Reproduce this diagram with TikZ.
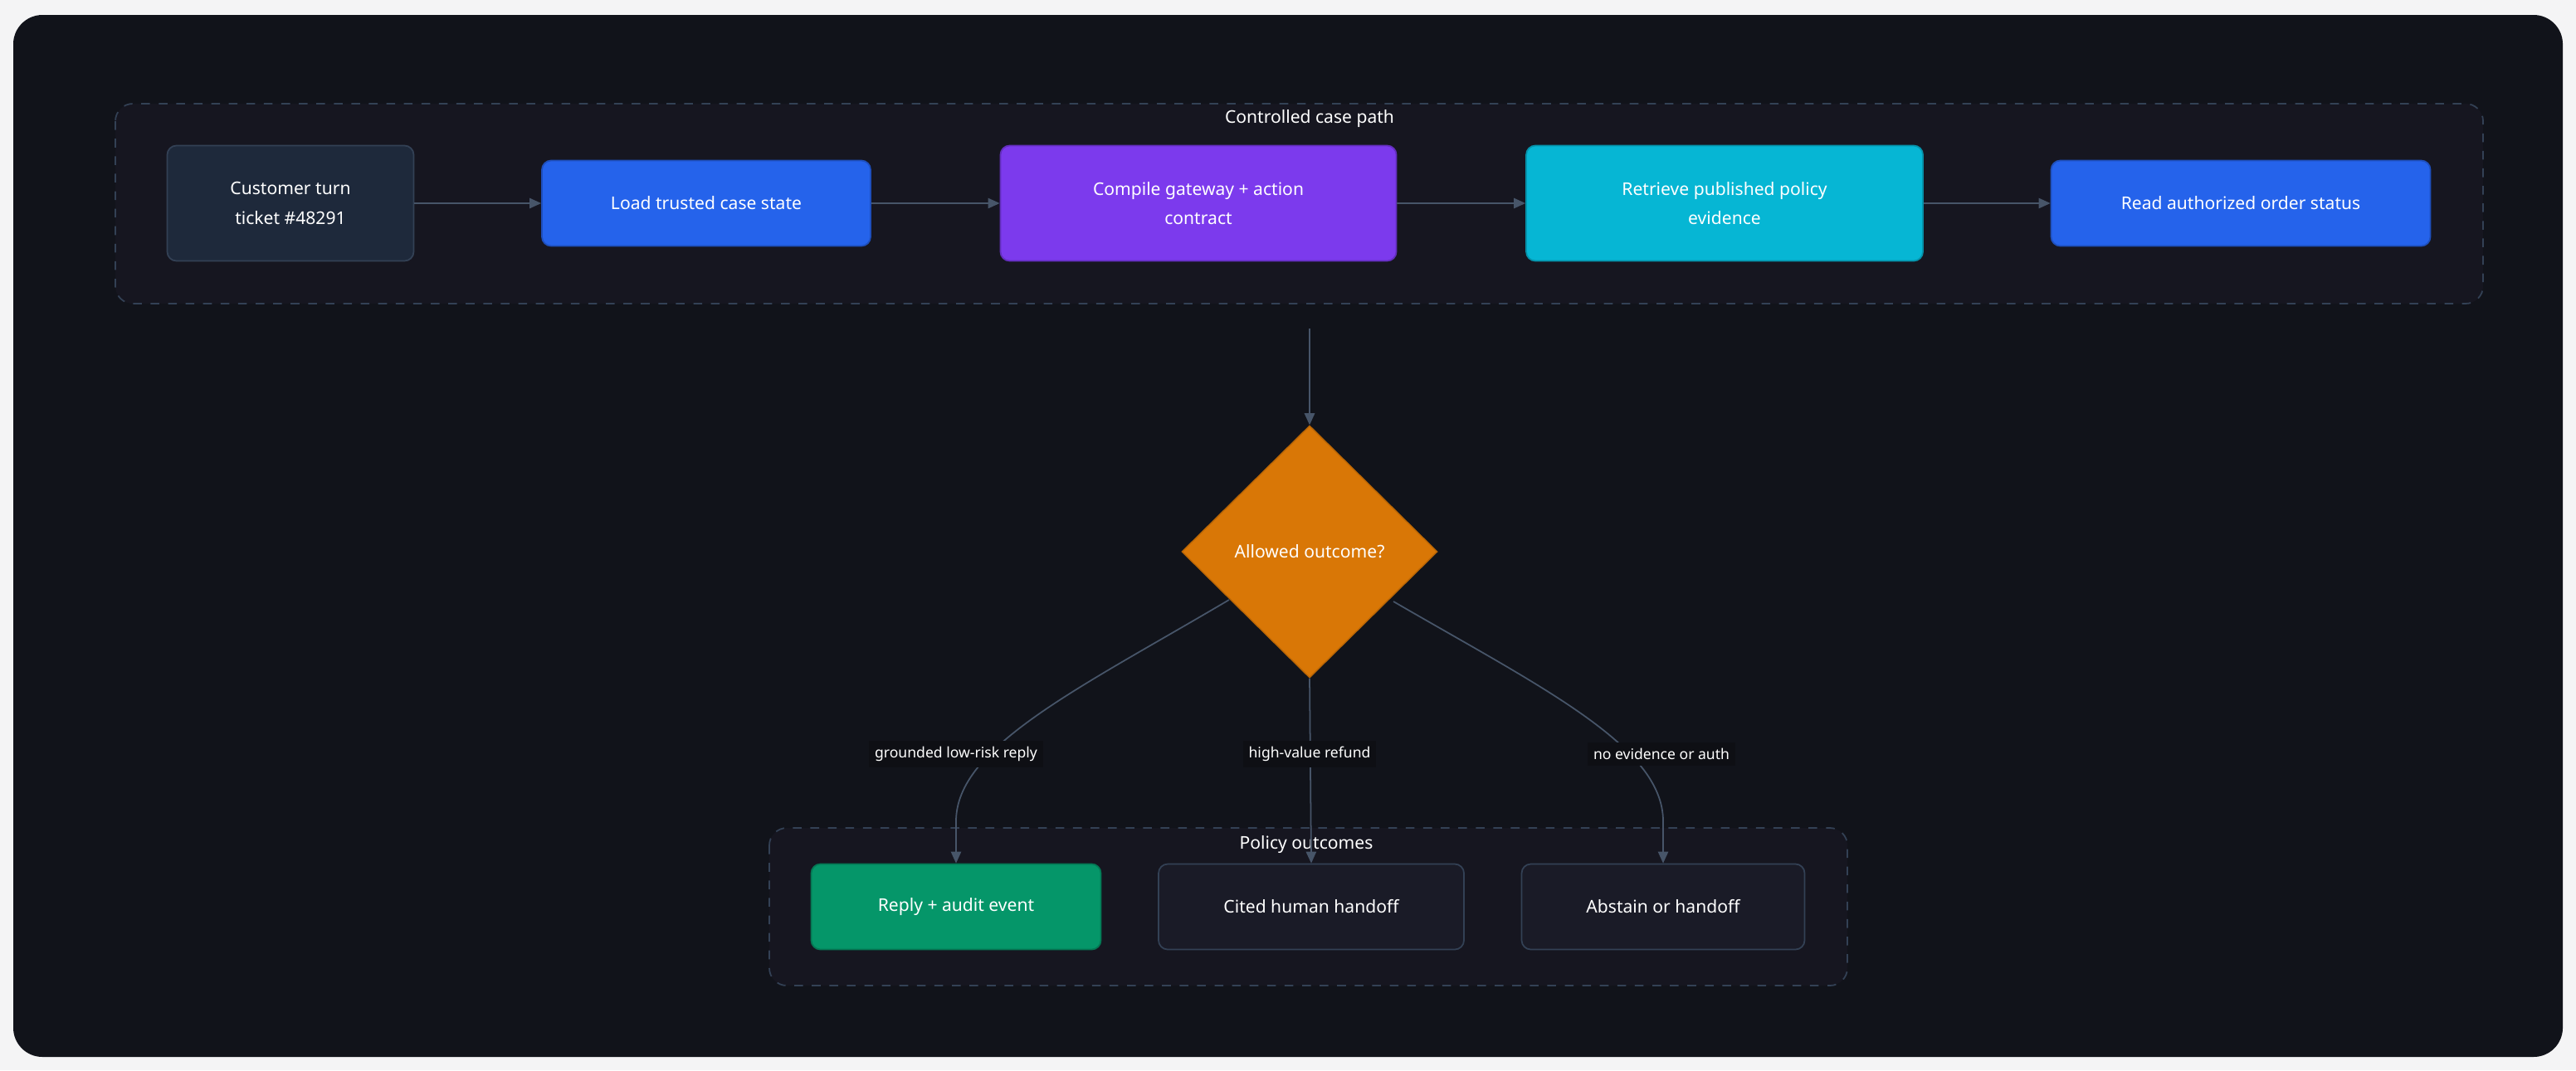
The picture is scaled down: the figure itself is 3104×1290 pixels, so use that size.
\documentclass[tikz,border=0pt]{standalone}
\usepackage{fontspec}
\setmainfont{Noto Sans}
\usetikzlibrary{shapes.geometric,arrows.meta}
\definecolor{pagebg}{HTML}{F4F4F5}
\definecolor{panel}{HTML}{11131A}
\definecolor{clus}{HTML}{161620}
\definecolor{clusline}{HTML}{334155}
\definecolor{slate}{HTML}{1E293B}
\definecolor{blue}{HTML}{2563EB}
\definecolor{purple}{HTML}{7C3AED}
\definecolor{cyan}{HTML}{06B6D4}
\definecolor{orange}{HTML}{D97706}
\definecolor{green}{HTML}{059669}
\definecolor{darkn}{HTML}{1A1B27}
\definecolor{edge}{HTML}{475569}
\definecolor{lblbg}{HTML}{0E0F14}
\tikzset{
  box/.style={draw, rounded corners=9pt*0.35, align=center, text=white, font=\fontsize{6}{10}\selectfont, line width=0.5pt},
  cluster/.style={draw=clusline, dashed, fill=clus, rounded corners=6pt, line width=0.5pt},
  ttl/.style={text=white, font=\fontsize{6}{7}\selectfont\bfseries},
  conn/.style={draw=edge, line width=0.5pt, -{Triangle[length=4pt,width=3.5pt]}},
  lbl/.style={fill=lblbg, text=white, font=\fontsize{5}{6}\selectfont, inner sep=2pt}
}
\begin{document}
\begin{tikzpicture}[x=0.01cm,y=-0.01cm]
\useasboundingbox (0,0) rectangle (3104,1290);
\fill[pagebg] (0,0) rectangle (3104,1290);
\fill[panel, rounded corners=10pt] (16,18) rectangle (3088,1274);
% clusters
\path[cluster] (139,125) rectangle (2992,366);
\node[ttl] (t1) at (1578,143) {Controlled case path};
\path[cluster] (927,998) rectangle (2226,1188);
\node[ttl] (t2) at (1574,1018) {Policy outcomes};
% top nodes
\node[box, fill=slate, draw=clusline, minimum width=297\pgflinewidth*0+297*0.01cm, minimum height=139*0.01cm] (a) at (350,245) {Customer turn\\ticket \#48291};
\node[box, fill=blue, draw=blue!80!black, minimum width=396*0.01cm, minimum height=103*0.01cm] (b) at (851,245) {Load trusted case state};
\node[box, fill=purple, draw=purple!80!black, minimum width=477*0.01cm, minimum height=139*0.01cm] (c) at (1444,245) {Compile gateway + action\\contract};
\node[box, fill=cyan, draw=cyan!80!black, minimum width=478*0.01cm, minimum height=139*0.01cm] (d) at (2078,245) {Retrieve published policy\\evidence};
\node[box, fill=blue, draw=blue!80!black, minimum width=457*0.01cm, minimum height=103*0.01cm] (e) at (2700,245) {Read authorized order status};
\draw[conn] (a) -- (b);
\draw[conn] (b) -- (c);
\draw[conn] (c) -- (d);
\draw[conn] (d) -- (e);
% decision
\coordinate (src) at (1578,396);
\node[diamond, fill=orange, draw=orange!85!black, minimum width=308*0.01cm, minimum height=304*0.01cm, inner sep=0pt, aspect=1, text=white, font=\fontsize{6}{7}\selectfont] (q) at (1578,665) {Allowed outcome?};
\draw[conn] (src) -- (q.north);
% outcomes
\node[box, fill=green, draw=green!80!black, minimum width=349*0.01cm, minimum height=103*0.01cm] (r) at (1152,1093) {Reply + audit event};
\node[box, fill=darkn, draw=clusline, minimum width=368*0.01cm, minimum height=103*0.01cm] (h) at (1580,1093) {Cited human handoff};
\node[box, fill=darkn, draw=clusline, minimum width=341*0.01cm, minimum height=103*0.01cm] (s) at (2004,1093) {Abstain or handoff};
\coordinate (qL) at (1481,723);
\coordinate (qR) at (1679,725);
\draw[conn] (qL) .. controls (1300,830) and (1152,900) .. (1152,990) -- (r.north);
\draw[conn] (q.south) -- (h.north);
\draw[conn] (qR) .. controls (1860,830) and (2004,900) .. (2004,990) -- (s.north);
\node[lbl] (l1) at (1152,909) {grounded low-risk reply};
\node[lbl] (l2) at (1578,909) {high-value refund};
\node[lbl] (l3) at (2002,909) {no evidence or auth};
\end{tikzpicture}
\end{document}
